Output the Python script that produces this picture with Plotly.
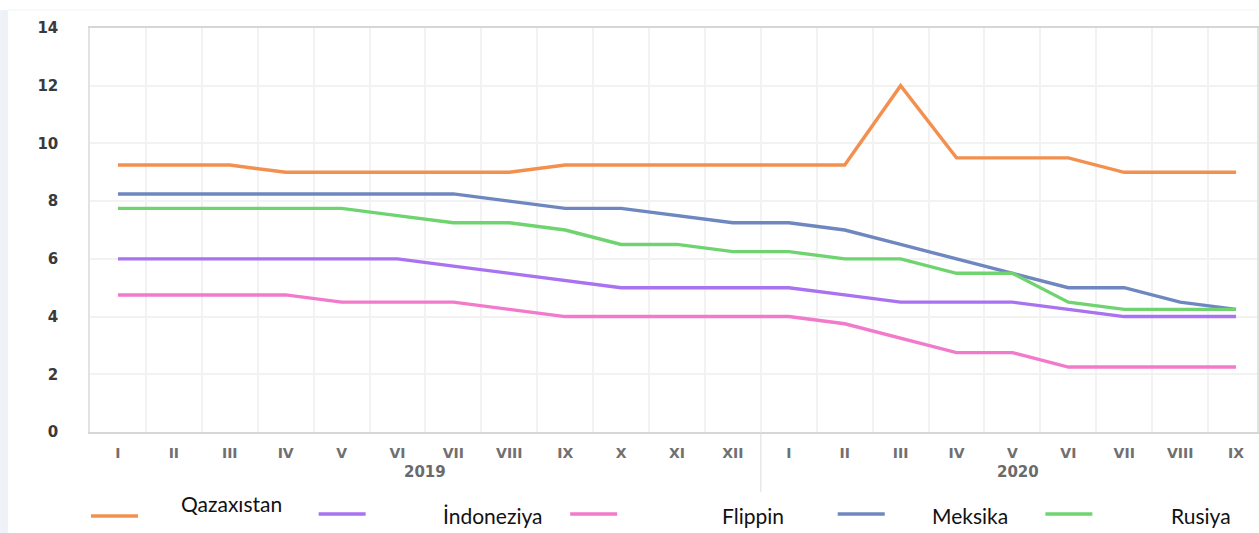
import plotly.graph_objects as go

months = ["I", "II", "III", "IV", "V", "VI", "VII", "VIII", "IX", "X", "XI", "XII",
          "I", "II", "III", "IV", "V", "VI", "VII", "VIII", "IX"]
years = ["2019", "2020"]

qazaxistan = [9.25, 9.25, 9.25, 9.0, 9.0, 9.0, 9.0, 9.0, 9.25, 9.25, 9.25, 9.25,
              9.25, 9.25, 12.0, 9.5, 9.5, 9.5, 9.0, 9.0, 9.0]
indoneziya = [6.0, 6.0, 6.0, 6.0, 6.0, 6.0, 5.75, 5.5, 5.25, 5.0, 5.0, 5.0,
              5.0, 4.75, 4.5, 4.5, 4.5, 4.25, 4.0, 4.0, 4.0]
flippin = [4.75, 4.75, 4.75, 4.75, 4.5, 4.5, 4.5, 4.25, 4.0, 4.0, 4.0, 4.0,
           4.0, 3.75, 3.25, 2.75, 2.75, 2.25, 2.25, 2.25, 2.25]
meksika = [8.25, 8.25, 8.25, 8.25, 8.25, 8.25, 8.25, 8.0, 7.75, 7.75, 7.5, 7.25,
           7.25, 7.0, 6.5, 6.0, 5.5, 5.0, 5.0, 4.5, 4.25]
rusiya = [7.75, 7.75, 7.75, 7.75, 7.75, 7.5, 7.25, 7.25, 7.0, 6.5, 6.5, 6.25,
          6.25, 6.0, 6.0, 5.5, 5.5, 4.5, 4.25, 4.25, 4.25]

names = ["Qazaxıstan", "İndoneziya", "Flippin", "Meksika", "Rusiya"]
series = [qazaxistan, indoneziya, flippin, meksika, rusiya]
colors = ["#F3904F", "#A872F0", "#F27ACB", "#6F87C0", "#6FD46F"]
legend_ids = ["legend", "legend2", "legend3", "legend4", "legend5"]

W, H = 1259, 533
L, R, T, B = 90, 0, 28, 101
pw, ph = W - L - R, H - T - B


def px_x(p):
    return (p - L) / pw


def px_y(p):
    return (H - B - p) / ph


x = list(range(len(months)))

fig = go.Figure()
for name, vals, col, lid in zip(names, series, colors, legend_ids):
    fig.add_trace(go.Scatter(x=x, y=vals, mode="lines", name="",
                             line=dict(color=col, width=3.4), legend=lid,
                             showlegend=True))

legend_x_px = [86, 314, 566, 834, 1042]
legend_y_px = [516, 514, 514, 514, 514]
layout_legends = {}
for lid, lx, ly in zip(legend_ids, legend_x_px, legend_y_px):
    layout_legends[lid] = dict(x=px_x(lx), y=px_y(ly), xanchor="left", yanchor="middle",
                               xref="paper", yref="paper", bgcolor="rgba(0,0,0,0)",
                               borderwidth=0, itemwidth=47,
                               font=dict(size=4, color="rgba(0,0,0,0)"))

annotations = []
text_pos = [(179, 503), (442, 515), (721, 515), (931, 515), (1171, 515)]
for name, (tx, ty) in zip(names, text_pos):
    annotations.append(dict(x=px_x(tx), y=px_y(ty), xref="paper", yref="paper",
                            text=name, showarrow=False, xanchor="left", yanchor="middle",
                            font=dict(family="Lato, Carlito, Arial", size=21, color="#111")))

yr_font = dict(family="DejaVu Sans", size=15, color="#6a6a6a", weight="bold")
annotations.append(dict(x=5.5, y=px_y(483), xref="x", yref="paper", text=years[0],
                        showarrow=False, font=yr_font))
annotations.append(dict(x=16.1, y=px_y(483), xref="x", yref="paper", text=years[1],
                        showarrow=False, font=yr_font))

shapes = [
    dict(type="line", xref="x", yref="paper", x0=11.5, x1=11.5, y0=0, y1=px_y(492),
         line=dict(color="#dcdcdc", width=1)),
    dict(type="rect", xref="paper", yref="paper", x0=px_x(0), x1=px_x(8),
         y0=px_y(533), y1=px_y(10), fillcolor="#eef1f6", line=dict(width=0), layer="below"),
    dict(type="line", xref="paper", yref="paper", x0=px_x(8), x1=1.0,
         y0=px_y(10), y1=px_y(10), line=dict(color="#f2f2f2", width=1)),
]

fig.update_layout(
    width=W, height=H,
    margin=dict(l=L, r=R, t=T, b=B, pad=0),
    paper_bgcolor="white", plot_bgcolor="white",
    annotations=annotations, shapes=shapes,
    **layout_legends,
)

fig.update_xaxes(
    range=[-0.5, -0.5 + pw / 56.0],
    tickvals=x, ticktext=months,
    tickfont=dict(family="DejaVu Sans", size=14, color="#707070", weight="bold"),
    showgrid=False, zeroline=False,
    showline=True, linecolor="#d6d6d6", linewidth=1.5, mirror=True,
    ticks="", ticklabelstandoff=7,
    minor=dict(tickvals=[i - 0.5 for i in x] + [len(x) - 0.5], showgrid=True,
               gridcolor="#f2f2f2", gridwidth=1.5),
)
fig.update_yaxes(
    range=[0, 14], dtick=2,
    tickfont=dict(family="DejaVu Sans", size=15, color="#3a3a3a", weight="bold"),
    showgrid=True, gridcolor="#f2f2f2", gridwidth=1.5, zeroline=False,
    showline=True, linecolor="#e2e2e2", linewidth=1.5, mirror=True,
    ticks="", ticklabelstandoff=27,
)

fig.write_html("out.html")
